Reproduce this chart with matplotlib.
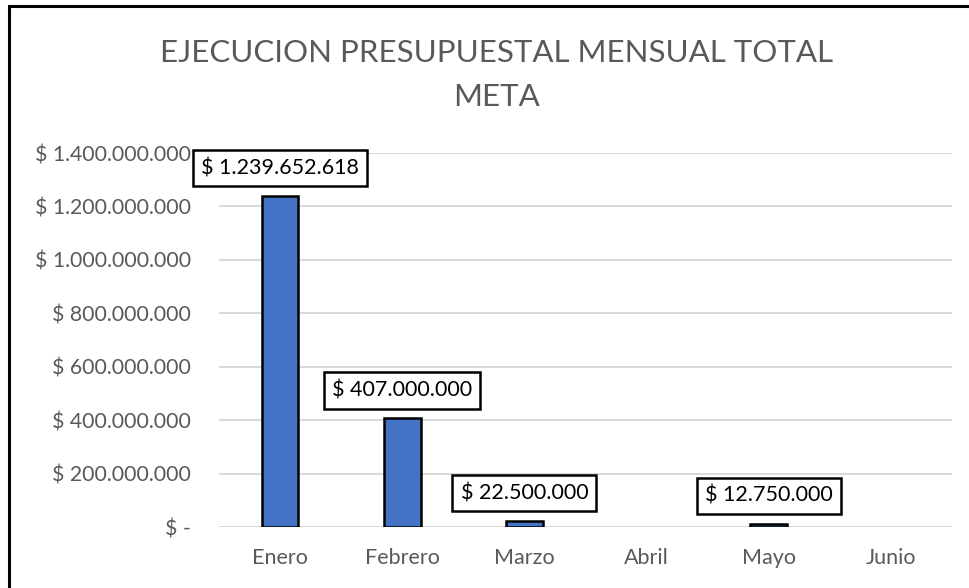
import matplotlib
matplotlib.use("Agg")
import matplotlib.pyplot as plt
from matplotlib.patches import Rectangle
from matplotlib.ticker import FuncFormatter

months = ["Enero", "Febrero", "Marzo", "Abril", "Mayo", "Junio"]
values = [1239652618, 407000000, 22500000, 0, 12750000, 0]
yticks = [0, 200000000, 400000000, 600000000, 800000000, 1000000000, 1200000000, 1400000000]

plt.rcParams['font.family'] = ['Lato', 'DejaVu Sans']

def money(v):
    if v == 0:
        return "$ -"
    return "$ " + f"{int(v):,}".replace(",", ".")

fig = plt.figure(figsize=(9.69, 5.88), dpi=100)
ax = fig.add_axes([219/969, 1-527/588, (952-219)/969, (527-153)/588])

x = list(range(len(months)))
lws = [1.8 if v > 0 else 0 for v in values]
bars = ax.bar(x, values, width=0.3, color="#4472C4", edgecolor="black", linewidth=lws, zorder=3)

ax.set_xlim(-0.5, len(months)-0.5)
ax.set_ylim(0, 1400000000)
ax.set_yticks(yticks)
ax.yaxis.set_major_formatter(FuncFormatter(lambda v, p: money(v)))
ax.set_xticks(x)
ax.set_xticklabels(months)
ax.tick_params(axis='both', length=0, colors="#595959")
ax.tick_params(axis='x', pad=15, labelsize=15.5)
ax.tick_params(axis='y', pad=20, labelsize=15.3)
ax.grid(axis='y', color="#D9D9D9", linewidth=1.4, zorder=0)
for s in ax.spines.values():
    s.set_visible(False)

for xi, v in zip(x, values):
    if v > 0:
        ax.annotate(money(v), xy=(xi, v), xytext=(0, 20), textcoords="offset points",
                    ha="center", va="center", fontsize=15.5, color="black",
                    bbox=dict(boxstyle="square,pad=0.38", fc="white", ec="black", lw=1.8),
                    zorder=5)

fig.text(497/969, 1-53/588, "EJECUCION PRESUPUESTAL MENSUAL TOTAL", ha="center", va="center",
         fontsize=22.5, color="#595959")
fig.text(497/969, 1-97/588, "META", ha="center", va="center", fontsize=22.5, color="#595959")

fig.patches.append(Rectangle((9/969, -0.1), 1.2, 1.1 - 6/588, transform=fig.transFigure,
                             fill=False, ec="black", lw=2.2))

fig.savefig("out.png", dpi=100)
